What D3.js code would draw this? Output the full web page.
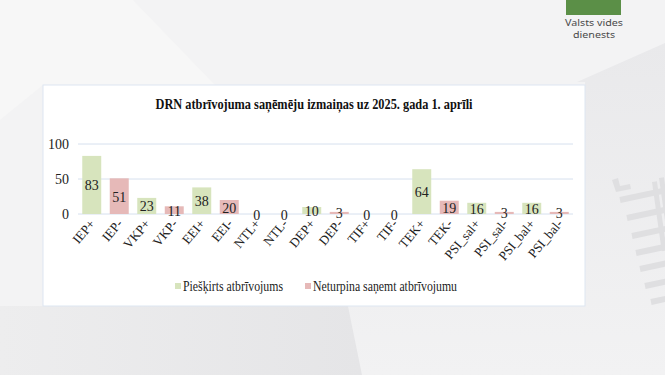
<!DOCTYPE html>
<html>
<head>
<meta charset="utf-8">
<script src="https://cdn.jsdelivr.net/npm/d3@7"></script>
<style>
  html, body { margin: 0; padding: 0; background: #f3f3f4; }
  svg { display: block; }
</style>
</head>
<body>
<svg id="slide" width="665" height="375"></svg>
<script>
// data
var groups = ["IEP", "VKP", "EEI", "NTL", "DEP", "TIF", "TEK", "PSI_sal", "PSI_bal"];
var granted = [83, 23, 38, 0, 10, 0, 64, 16, 16];      // Piešķirts atbrīvojums (+)
var stopped = [51, 11, 20, 0, 3, 0, 19, 3, 3];          // Neturpina saņemt atbrīvojumu (-)
var yTicks = [0, 50, 100];
var seriesNames = ["Piešķirts atbrīvojums", "Neturpina saņemt atbrīvojumu"];
var seriesColors = ["#d7e4bd", "#e6b9b8"];
var title = "DRN atbrīvojuma saņēmēju izmaiņas uz 2025. gada 1. aprīli";

var FONT = "'Liberation Serif', 'Times New Roman', serif";

var bars = [];
groups.forEach(function(g, i) {
    bars.push({ cat: g + "+", value: granted[i], s: 0 });
    bars.push({ cat: g + "-", value: stopped[i], s: 1 });
});

var svg = d3.select("#slide");

// slide background
var defs = svg.append("defs");
var gr1 = defs.append("linearGradient").attr("id", "gRight").attr("x1", 0).attr("y1", 0).attr("x2", 0).attr("y2", 1);
gr1.append("stop").attr("offset", "0%").attr("stop-color", "#e9e9eb");
gr1.append("stop").attr("offset", "100%").attr("stop-color", "#f2f2f3");
var gr2 = defs.append("linearGradient").attr("id", "gBottom").attr("x1", 0).attr("y1", 0).attr("x2", 1).attr("y2", 0);
gr2.append("stop").attr("offset", "0%").attr("stop-color", "#ededee");
gr2.append("stop").attr("offset", "100%").attr("stop-color", "#e5e5e7");

svg.append("rect").attr("width", 665).attr("height", 375).attr("fill", "#f3f3f4");
svg.append("polygon").attr("points", "0,0 133,0 215,85 43,85 0,120").attr("fill", "#f7f7f7");
svg.append("polygon").attr("points", "577,82 665,43 665,375 362,375 348,306 585,306 585,82").attr("fill", "url(#gRight)");
svg.append("polygon").attr("points", "0,306 348,306 362,375 0,375").attr("fill", "url(#gBottom)");

// decorative stripes on the right
var stripes = [[620, 200], [627, 218], [632, 236], [636, 253], [640, 269], [645, 286], [651, 302]];
svg.append("g").selectAll("rect").data(stripes).enter().append("rect")
    .attr("x", 0).attr("y", -3).attr("width", 45).attr("height", 6)
    .attr("fill", "#dfdfe1")
    .attr("transform", function(d) { return "translate(" + d[0] + "," + d[1] + ") rotate(-12)"; });
svg.append("path").attr("d", "M612,180 L618,178 L620,186 L630,184 L631,189 L616,192 Z").attr("fill", "#dfdfe1");
svg.append("g").selectAll("rect").data([[652, 182], [659, 178]]).enter().append("rect")
    .attr("x", function(d) { return d[0]; }).attr("y", function(d) { return d[1]; })
    .attr("width", 5).attr("height", 70).attr("fill", "#dfdfe1")
    .attr("transform", function(d) { return "rotate(-8," + d[0] + "," + d[1] + ")"; });

// logo
svg.append("rect").attr("x", 566).attr("y", 0).attr("width", 55).attr("height", 15).attr("fill", "#5b8f47");
svg.append("text").attr("x", 594).attr("y", 26).attr("text-anchor", "middle")
    .attr("textLength", 58).attr("lengthAdjust", "spacingAndGlyphs")
    .style("font-family", "'Noto Sans', sans-serif").style("font-size", "9.5px").style("fill", "#4a4a4a")
    .text("Valsts vides");
svg.append("text").attr("x", 594).attr("y", 38).attr("text-anchor", "middle")
    .attr("textLength", 42).attr("lengthAdjust", "spacingAndGlyphs")
    .style("font-family", "'Noto Sans', sans-serif").style("font-size", "9.5px").style("fill", "#4a4a4a")
    .text("dienests");

// chart box
svg.append("rect").attr("x", 43).attr("y", 85).attr("width", 542).attr("height", 221)
    .attr("fill", "#ffffff").attr("stroke", "#dde6f1").attr("stroke-width", 1);

svg.append("text").attr("x", 314).attr("y", 109).attr("text-anchor", "middle")
    .attr("textLength", 317).attr("lengthAdjust", "spacingAndGlyphs")
    .style("font-family", FONT).style("font-weight", "bold").style("font-size", "14px").style("fill", "#111")
    .text(title);

var scaleX = d3.scaleBand()
    .domain(bars.map(function(d) { return d.cat; }))
    .range([78, 573])
    .paddingInner(0.31)
    .paddingOuter(0.155);

var scaleY = d3.scaleLinear().domain([0, 100]).range([214, 144]);

// gridlines
svg.append("g").selectAll("line").data(yTicks).enter().append("line")
    .attr("x1", 78).attr("x2", 573)
    .attr("y1", function(d) { return scaleY(d); })
    .attr("y2", function(d) { return scaleY(d); })
    .attr("stroke", "#d6e0ee").attr("stroke-width", 1);

// y axis labels
var yAxis = d3.axisLeft(scaleY).tickValues(yTicks).tickSize(0).tickPadding(0);
var gy = svg.append("g").attr("transform", "translate(69,0)").call(yAxis);
gy.attr("font-family", null).attr("font-size", null);
gy.select(".domain").remove();
gy.selectAll("text")
    .style("font-family", FONT).style("font-size", "14px").style("fill", "#222");

// bars
svg.append("g").selectAll("rect").data(bars).enter().append("rect")
    .attr("x", function(d) { return scaleX(d.cat); })
    .attr("y", function(d) { return scaleY(d.value); })
    .attr("width", scaleX.bandwidth())
    .attr("height", function(d) { return scaleY(0) - scaleY(d.value); })
    .attr("fill", function(d) { return seriesColors[d.s]; });

// value labels (centered in bar)
svg.append("g").selectAll("text").data(bars).enter().append("text")
    .attr("x", function(d) { return scaleX(d.cat) + scaleX.bandwidth() / 2; })
    .attr("y", function(d) { return (scaleY(d.value) + scaleY(0)) / 2 + 1; })
    .attr("text-anchor", "middle").attr("dominant-baseline", "central")
    .style("font-family", FONT).style("font-size", "14px").style("fill", "#222")
    .text(function(d) { return d.value; });

// x axis category labels
var xAxis = d3.axisBottom(scaleX).tickSize(0).tickPadding(0);
var gx = svg.append("g").attr("transform", "translate(0,214)").call(xAxis);
gx.attr("font-family", null).attr("font-size", null);
gx.select(".domain").remove();
gx.selectAll("text")
    .attr("text-anchor", "end")
    .attr("dy", null)
    .attr("y", 0)
    .attr("transform", function() { return "translate(4,10) rotate(-50)"; })
    .style("font-family", FONT).style("font-size", "13px").style("fill", "#222");

// legend
var legendX = [[175, 183, 100], [305, 313, 144]];
var lg = svg.append("g");
seriesNames.forEach(function(name, i) {
    lg.append("rect").attr("x", legendX[i][0]).attr("y", 283).attr("width", 6).attr("height", 6)
        .attr("fill", seriesColors[i]);
    lg.append("text").attr("x", legendX[i][1]).attr("y", 291)
        .attr("textLength", legendX[i][2]).attr("lengthAdjust", "spacingAndGlyphs")
        .style("font-family", FONT).style("font-size", "14px").style("fill", "#222")
        .text(name);
});
</script>
</body>
</html>
